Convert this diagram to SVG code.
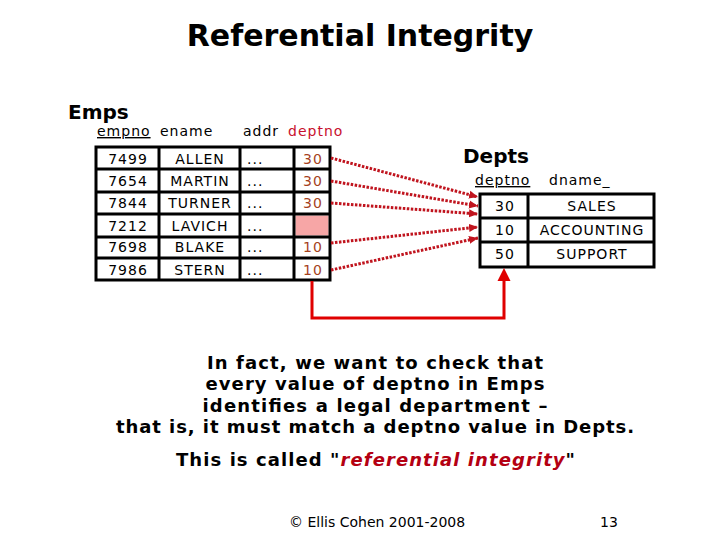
<svg xmlns="http://www.w3.org/2000/svg" width="720" height="540" viewBox="0 0 720 540">
<style>
text{font-family:"DejaVu Sans","Verdana",sans-serif;}
.title{font-size:30px;font-weight:bold;fill:#000;}
.h{font-size:20px;font-weight:bold;fill:#000;}
.col{font-size:14px;letter-spacing:1px;fill:#000;}
.cell{font-size:14px;letter-spacing:1px;fill:#000;}
.mid{text-anchor:middle;}
.fk{fill:#a5421e;}
.red{fill:#c8102e;}
.tb{fill:none;stroke:#000;stroke-width:3;}
.body{font-size:18px;font-weight:bold;fill:#000;}
.foot{font-size:14px;fill:#000;}
.dot{fill:none;stroke:#c0141e;stroke-width:3;stroke-dasharray:2.5 1.5;}
</style>
<defs>
<marker id="ah" markerUnits="userSpaceOnUse" markerWidth="10" markerHeight="10" refX="9" refY="5" orient="auto">
<path d="M0,1 L9,5 L0,9 Z" fill="#c0141e"/>
</marker>
</defs>
<text class="title" x="360" y="46" text-anchor="middle">Referential Integrity</text>

<g id="emps">
<text class="h" x="68" y="119">Emps</text>
<text class="col" x="97" y="136" text-decoration="underline">empno</text>
<text class="col" x="160" y="136">ename</text>
<text class="col" x="243" y="136">addr</text>
<text class="col red" x="288" y="136">deptno</text>
<rect x="295.5" y="215.5" width="33" height="20" fill="#f7a6a6"/>
<rect class="tb" x="96" y="147" width="234" height="133"/>
<path class="tb" d="M96,169 H330 M96,192 H330 M96,214 H330 M96,237 H330 M96,258 H330 M159,147 V280 M240,147 V280 M294,147 V280"/>
<g class="cell">
<text class="mid" x="128" y="164">7499</text><text class="mid" x="200" y="164">ALLEN</text><text x="247" y="164">...</text><text class="fk" x="303" y="164">30</text>
<text class="mid" x="128" y="186">7654</text><text class="mid" x="200" y="186">MARTIN</text><text x="247" y="186">...</text><text class="fk" x="303" y="186">30</text>
<text class="mid" x="128" y="208">7844</text><text class="mid" x="200" y="208">TURNER</text><text x="247" y="208">...</text><text class="fk" x="303" y="208">30</text>
<text class="mid" x="128" y="231">7212</text><text class="mid" x="200" y="231">LAVICH</text><text x="247" y="231">...</text>
<text class="mid" x="128" y="252">7698</text><text class="mid" x="200" y="252">BLAKE</text><text x="247" y="252">...</text><text class="fk" x="303" y="252">10</text>
<text class="mid" x="128" y="275">7986</text><text class="mid" x="200" y="275">STERN</text><text x="247" y="275">...</text><text class="fk" x="303" y="275">10</text>
</g>
</g>

<g id="depts">
<text class="h" x="463" y="163">Depts</text>
<text class="col" x="475" y="185" text-decoration="underline">deptno</text>
<text class="col" x="549" y="185">dname_</text>
<rect class="tb" x="480" y="194" width="174" height="73"/>
<path class="tb" d="M480,218 H654 M480,242 H654 M528,194 V267"/>
<g class="cell">
<text class="mid" x="505" y="211">30</text><text class="mid" x="592" y="211">SALES</text>
<text class="mid" x="505" y="235">10</text><text class="mid" x="592" y="235">ACCOUNTING</text>
<text class="mid" x="505" y="259">50</text><text class="mid" x="592" y="259">SUPPORT</text>
</g>
</g>

<g id="connectors">
<path class="dot" d="M331,158 L478,197" marker-end="url(#ah)"/>
<path class="dot" d="M331,181 L478,206" marker-end="url(#ah)"/>
<path class="dot" d="M331,203 L478,214" marker-end="url(#ah)"/>
<path class="dot" d="M331,243 L478,227" marker-end="url(#ah)"/>
<path class="dot" d="M331,270 L478,238" marker-end="url(#ah)"/>
<path d="M312,281 V318 H504 V279" fill="none" stroke="#e00000" stroke-width="3"/>
<path d="M504,268 L497.5,281 L510.5,281 Z" fill="#e00000"/>
</g>

<g id="text">
<text class="body" x="375" y="369" text-anchor="middle" textLength="336" lengthAdjust="spacing">In fact, we want to check that</text>
<text class="body" x="375" y="390" text-anchor="middle" textLength="339" lengthAdjust="spacing">every value of deptno in Emps</text>
<text class="body" x="375" y="412" text-anchor="middle" textLength="345" lengthAdjust="spacing">identifies a legal department –</text>
<text class="body" x="375" y="433" text-anchor="middle" textLength="518" lengthAdjust="spacing">that is, it must match a deptno value in Depts.</text>
<text class="body" x="176" y="466" textLength="399" lengthAdjust="spacing">This is called "<tspan fill="#b40012" font-style="italic">referential integrity</tspan>"</text>
<text class="foot" x="289" y="527">© Ellis Cohen 2001-2008</text>
<text class="foot" x="600" y="527">13</text>
</g>
</svg>
